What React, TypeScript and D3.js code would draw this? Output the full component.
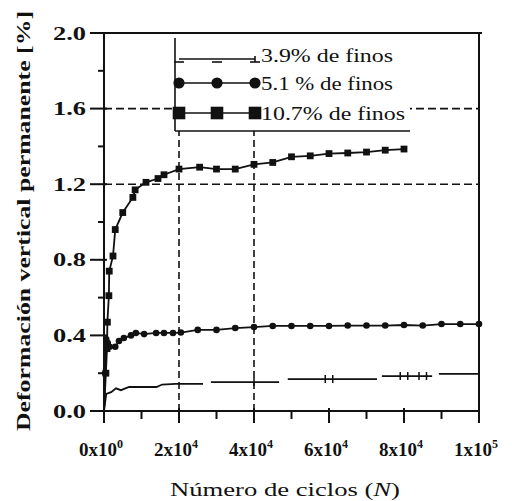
import React from "react";
import * as d3 from "d3";

// Permanent vertical deformation (%) against number of load cycles N
type Pt = [number, number];

const fines39: (Pt | null)[] = [
  [0, 0], [600, 0.09], [1900, 0.1], [3200, 0.12], [4500, 0.11], [6700, 0.127], [14000, 0.127],
  [15500, 0.14], [19000, 0.143], [26400, 0.143], null,
  [28500, 0.153], [40000, 0.153], [46700, 0.153], null,
  [49000, 0.169], [59000, 0.169], [61000, 0.169], [72800, 0.169], null,
  [74100, 0.185], [79000, 0.185], [81000, 0.185], [84000, 0.185], [86000, 0.185], [87500, 0.185], null,
  [89300, 0.196], [100000, 0.196],
];
const fines39Marks: Pt[] = [
  [40000, 0.153], [59000, 0.169], [61000, 0.169], [79000, 0.185], [81000, 0.185],
  [84000, 0.185], [86000, 0.185], [100000, 0.196],
];

const fines51: Pt[] = [
  [0, 0], [300, 0.2], [600, 0.38], [1000, 0.36], [1500, 0.34], [3000, 0.34], [4000, 0.37],
  [5300, 0.386], [7200, 0.4], [8500, 0.413], [10700, 0.407], [13900, 0.413], [16000, 0.413],
  [18400, 0.413], [20500, 0.415], [25000, 0.429], [30000, 0.429], [35000, 0.439], [40000, 0.444],
  [45000, 0.45], [50000, 0.45], [55000, 0.45], [60000, 0.45], [65000, 0.452], [70000, 0.452],
  [75000, 0.452], [80000, 0.455], [85000, 0.452], [90000, 0.46], [95000, 0.46], [100000, 0.46],
];

const fines107: Pt[] = [
  [0, 0], [500, 0.2], [800, 0.33], [900, 0.47], [1300, 0.61], [1400, 0.74], [2400, 0.82],
  [3000, 0.96], [5000, 1.05], [7700, 1.13], [8300, 1.17], [11200, 1.21], [14400, 1.23],
  [16000, 1.25], [20000, 1.28], [25500, 1.29], [30000, 1.28], [35000, 1.28], [40000, 1.305],
  [45000, 1.315], [50000, 1.345], [55000, 1.35], [60000, 1.362], [65000, 1.365], [70000, 1.37],
  [75000, 1.38], [80000, 1.386],
];

const legendLabels = ["3.9% de finos", "5.1 % de finos", "10.7% de finos"];
const yTitle = "Deformación vertical permanente [%]";
const xTitle = "Número de ciclos (";
const xTitleVar = "N";
const xMajor = [0, 20000, 40000, 60000, 80000, 100000];
const yMajor = [0, 0.4, 0.8, 1.2, 1.6, 2.0];
const gridX = [20000, 40000];
const gridY = [1.2, 1.6];

const SERIF = '"Liberation Serif", "Times New Roman", serif';

export default function App() {
  const x = d3.scaleLinear().domain([0, 100000]).range([104, 479]);
  const y = d3.scaleLinear().domain([0, 2]).range([411, 33]);

  const line = d3
    .line<Pt | null>()
    .defined((d) => d !== null)
    .x((d) => x((d as Pt)[0]))
    .y((d) => y((d as Pt)[1]));

  const xMinor = d3.range(10000, 100000, 20000);
  const yMinor = d3.range(0.2, 2, 0.4);

  const legX0 = 179;
  const legX1 = 255;
  const legRows = [59, 83, 113];
  const legendTop = 38;
  const legendBottom = 131;
  const legendLeft = 175;
  const legendRight = 410;

  const fmtExp = (v: number) => {
    if (v === 0) return { m: "0", e: "0" };
    const e = Math.floor(Math.log10(v));
    return { m: String(Math.round(v / Math.pow(10, e))), e: String(e) };
  };

  const textStyle = { fontFamily: SERIF };

  return (
    <svg
      width={512}
      height={501}
      style={{ position: "absolute", left: 0, top: 0, background: "#fff", fontFamily: SERIF }}
    >
      <rect width={512} height={501} fill="#fff" />

      {/* dashed reference grid */}
      <g stroke="#111" strokeWidth={1.6} strokeDasharray="8 4">
        {gridY.map((v) => (
          <line key={"gy" + v} x1={x(0)} x2={x(100000)} y1={y(v)} y2={y(v)} />
        ))}
        {gridX.map((v) => (
          <line key={"gx" + v} x1={x(v)} x2={x(v)} y1={y(0)} y2={legendBottom} strokeDasharray="7 4" />
        ))}
      </g>

      {/* legend panel */}
      <rect x={legendLeft} y={legendTop} width={legendRight - legendLeft} height={legendBottom - legendTop} fill="#fff" />
      <g stroke="#111" strokeWidth={1.6}>
        <line x1={legendLeft} x2={legendLeft} y1={legendTop} y2={legendBottom} />
        <line x1={legendLeft} x2={legendRight} y1={legendBottom} y2={legendBottom} />
      </g>
      <g stroke="#111" strokeWidth={1.6} fill="#111">
        <line x1={legX0} x2={legX1} y1={legRows[0]} y2={legRows[0]} />
        {[legX0, (legX0 + legX1) / 2, legX1].map((cx) => (
          <line key={"l1" + cx} x1={cx - 5} x2={cx + 5} y1={legRows[0] + 3} y2={legRows[0] + 3} />
        ))}
        <line x1={legX1} x2={legX1} y1={legRows[0] - 3} y2={legRows[0] + 3} />
        <line x1={legX0} x2={legX1} y1={legRows[1]} y2={legRows[1]} />
        {[legX0, (legX0 + legX1) / 2, legX1].map((cx) => (
          <circle key={"l2" + cx} cx={cx} cy={legRows[1]} r={4.8} />
        ))}
        <line x1={legX0} x2={legX1} y1={legRows[2]} y2={legRows[2]} />
        {[legX0, (legX0 + legX1) / 2, legX1].map((cx) => (
          <rect key={"l3" + cx} x={cx - 5.5} y={legRows[2] - 5.5} width={11} height={11} />
        ))}
      </g>
      <g fontSize={18} fill="#111" style={textStyle}>
        {legendLabels.map((t, i) => (
          <text
            key={t}
            x={261}
            y={legRows[i] + (i === 0 ? 3 : 7)}
            textLength={i === 2 ? 144 : 132}
            lengthAdjust="spacingAndGlyphs"
            style={textStyle}
          >
            {t}
          </text>
        ))}
      </g>

      {/* series */}
      <g fill="none" stroke="#111" strokeWidth={1.8}>
        <path d={line(fines39) || ""} />
        <path d={line(fines51) || ""} />
        <path d={line(fines107) || ""} />
      </g>
      <g stroke="#111" strokeWidth={1.5}>
        {fines39Marks.map((d, i) => (
          <line key={"m39" + i} x1={x(d[0])} x2={x(d[0])} y1={y(d[1]) - 4} y2={y(d[1]) + 4} />
        ))}
      </g>
      <g fill="#111">
        {fines51.slice(1).map((d, i) => (
          <circle key={"m51" + i} cx={x(d[0])} cy={y(d[1])} r={3.3} />
        ))}
        {fines107.slice(1).map((d, i) => (
          <rect key={"m107" + i} x={x(d[0]) - 3.4} y={y(d[1]) - 3.4} width={6.8} height={6.8} />
        ))}
      </g>

      {/* frame and ticks */}
      <g stroke="#111" strokeWidth={2}>
        <line x1={x(0)} x2={x(0)} y1={y(0)} y2={y(2)} />
        <line x1={x(0)} x2={x(100000) + 3} y1={y(2)} y2={y(2)} />
        <line x1={x(100000)} x2={x(100000)} y1={y(0)} y2={y(2)} />
        <line x1={x(0)} x2={x(100000)} y1={y(0)} y2={y(0)} />
        {yMajor.map((v) => (
          <line key={"yt" + v} x1={x(0) - 14} x2={x(0) + 3} y1={y(v)} y2={y(v)} />
        ))}
        {yMinor.map((v) => (
          <line key={"ym" + v} x1={x(0) - 6} x2={x(0)} y1={y(v)} y2={y(v)} />
        ))}
        {xMajor.map((v) => (
          <line key={"xt" + v} x1={x(v)} x2={x(v)} y1={y(0) - 3} y2={y(0) + 12} />
        ))}
        {xMinor.map((v) => (
          <line key={"xm" + v} x1={x(v)} x2={x(v)} y1={y(0)} y2={y(0) + 8} />
        ))}
      </g>

      {/* tick labels */}
      <g fontSize={19} fontWeight="bold" fill="#111" style={textStyle}>
        {yMajor.map((v) => (
          <text
            key={"yl" + v}
            x={86}
            y={y(v) + 6.5}
            textAnchor="end"
            textLength={33}
            lengthAdjust="spacingAndGlyphs"
            style={textStyle}
          >
            {d3.format(".1f")(v)}
          </text>
        ))}
        {xMajor.map((v) => {
          const f = fmtExp(v);
          return (
            <text key={"xl" + v} x={x(v) - 3} y={456} textAnchor="middle" style={textStyle}>
              {f.m + "x10"}
              <tspan fontSize={12} dy={-8}>
                {f.e}
              </tspan>
            </text>
          );
        })}
      </g>

      {/* axis titles */}
      <text
        transform={`translate(30,221) rotate(-90)`}
        textAnchor="middle"
        fontSize={19}
        fontWeight="bold"
        fill="#111"
        textLength={420}
        lengthAdjust="spacingAndGlyphs"
        style={textStyle}
      >
        {yTitle}
      </text>
      <text
        x={285}
        y={496}
        textAnchor="middle"
        fontSize={18}
        fill="#111"
        textLength={230}
        lengthAdjust="spacingAndGlyphs"
        style={textStyle}
      >
        {xTitle}
        <tspan fontStyle="italic">{xTitleVar}</tspan>
        {")"}
      </text>
    </svg>
  );
}
